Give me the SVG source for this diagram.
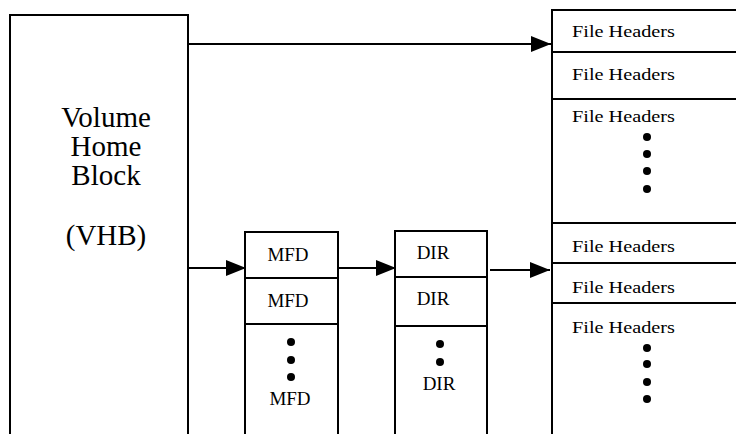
<svg xmlns="http://www.w3.org/2000/svg" width="736" height="434" viewBox="0 0 736 434">
<defs>
<style>
.box{fill:#fff;stroke:#000;stroke-width:2}
.ln{stroke:#000;stroke-width:2;fill:none}
text{font-family:"Liberation Serif",serif;fill:#000}
.big{font-size:29px;text-anchor:middle}
.t{font-size:19px;text-anchor:middle}
.fh{font-size:17.5px}
.dot{fill:#000}
</style>
<marker id="ah" markerWidth="20" markerHeight="16" refX="20" refY="8" orient="auto" markerUnits="userSpaceOnUse">
<path d="M0,0 L20,8 L0,16 Z" fill="#000"/>
</marker>
</defs>
<rect width="736" height="434" fill="#fff"/>
<g id="vhb">
<path class="box" d="M10,436 V15 H188 V436"/>
<text class="big" x="106" y="127" font-family="Liberation Serif">Volume</text>
<text class="big" x="106" y="156" font-family="Liberation Serif">Home</text>
<text class="big" x="106" y="185" font-family="Liberation Serif">Block</text>
<text class="big" x="106" y="245" font-family="Liberation Serif">(VHB)</text>
</g>
<g id="mfd">
<path class="box" d="M245,436 V232 H338 V436"/>
<line class="ln" x1="245" y1="278" x2="338" y2="278"/>
<line class="ln" x1="245" y1="324" x2="338" y2="324"/>
<text class="t" x="288" y="261" font-family="Liberation Serif">MFD</text>
<text class="t" x="288" y="307" font-family="Liberation Serif">MFD</text>
<circle class="dot" cx="291" cy="342" r="4"/>
<circle class="dot" cx="291" cy="360" r="4"/>
<circle class="dot" cx="291" cy="377" r="4"/>
<text class="t" x="290" y="405" font-family="Liberation Serif">MFD</text>
</g>
<g id="dir">
<path class="box" d="M395,436 V231 H487 V436"/>
<line class="ln" x1="395" y1="277" x2="487" y2="277"/>
<line class="ln" x1="395" y1="326" x2="487" y2="326"/>
<text class="t" x="433" y="259" font-family="Liberation Serif">DIR</text>
<text class="t" x="433" y="305" font-family="Liberation Serif">DIR</text>
<circle class="dot" cx="440" cy="344" r="4"/>
<circle class="dot" cx="440" cy="362" r="4"/>
<text class="t" x="439" y="390" font-family="Liberation Serif">DIR</text>
</g>
<g id="fileheaders">
<path class="box" d="M740,10 H552 V436"/>
<line class="ln" x1="552" y1="52" x2="740" y2="52"/>
<line class="ln" x1="552" y1="99" x2="740" y2="99"/>
<line class="ln" x1="552" y1="223" x2="740" y2="223"/>
<line class="ln" x1="552" y1="263" x2="740" y2="263"/>
<line class="ln" x1="552" y1="303" x2="740" y2="303"/>
<text class="fh" x="572" y="37" font-family="Liberation Serif" textLength="103" lengthAdjust="spacingAndGlyphs">File Headers</text>
<text class="fh" x="572" y="80" font-family="Liberation Serif" textLength="103" lengthAdjust="spacingAndGlyphs">File Headers</text>
<text class="fh" x="572" y="122" font-family="Liberation Serif" textLength="103" lengthAdjust="spacingAndGlyphs">File Headers</text>
<circle class="dot" cx="647" cy="137" r="4"/>
<circle class="dot" cx="647" cy="154" r="4"/>
<circle class="dot" cx="647" cy="171" r="4"/>
<circle class="dot" cx="647" cy="189" r="4"/>
<text class="fh" x="572" y="252" font-family="Liberation Serif" textLength="103" lengthAdjust="spacingAndGlyphs">File Headers</text>
<text class="fh" x="572" y="293" font-family="Liberation Serif" textLength="103" lengthAdjust="spacingAndGlyphs">File Headers</text>
<text class="fh" x="572" y="333" font-family="Liberation Serif" textLength="103" lengthAdjust="spacingAndGlyphs">File Headers</text>
<circle class="dot" cx="647" cy="348" r="4"/>
<circle class="dot" cx="647" cy="364" r="4"/>
<circle class="dot" cx="647" cy="382" r="4"/>
<circle class="dot" cx="647" cy="399" r="4"/>
</g>
<g id="connectors">
<line class="ln" x1="188" y1="44" x2="551" y2="44" marker-end="url(#ah)"/>
<line class="ln" x1="188" y1="268" x2="246" y2="268" marker-end="url(#ah)"/>
<line class="ln" x1="338" y1="268" x2="396" y2="268" marker-end="url(#ah)"/>
<line class="ln" x1="490" y1="270" x2="550" y2="270" marker-end="url(#ah)"/>
</g>
</svg>
